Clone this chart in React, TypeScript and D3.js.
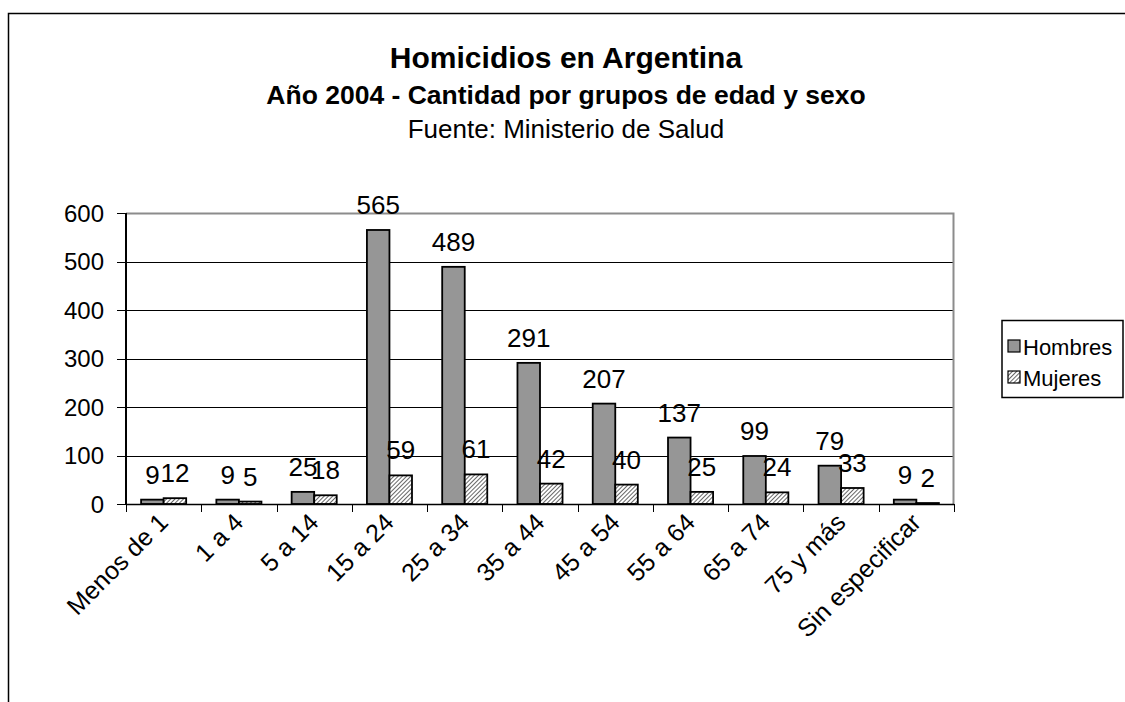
import React, { useEffect, useRef } from 'react';
import * as d3 from 'd3';

const categories = ['Menos de 1', '1 a 4', '5 a 14', '15 a 24', '25 a 34', '35 a 44', '45 a 54', '55 a 64', '65 a 74', '75 y más', 'Sin especificar'];
const hombres = [9, 9, 25, 565, 489, 291, 207, 137, 99, 79, 9];
const mujeres = [12, 5, 18, 59, 61, 42, 40, 25, 24, 33, 2];
const seriesNames = ['Hombres', 'Mujeres'];
const yTicks = [0, 100, 200, 300, 400, 500, 600];

const FONT = 'Arial, "Liberation Sans", sans-serif';

const App = () => {
  const ref = useRef<SVGSVGElement>(null);

  useEffect(() => {
    const W = 1125;
    const H = 702;
    const svg = d3.select(ref.current);
    svg.selectAll('*').remove();
    svg.attr('width', W).attr('height', H);

    // patrón rayado para Mujeres
    const defs = svg.append('defs');
    const pat = defs.append('pattern')
      .attr('id', 'hatch')
      .attr('patternUnits', 'userSpaceOnUse')
      .attr('width', 3)
      .attr('height', 3)
      .attr('patternTransform', 'rotate(45)');
    pat.append('rect').attr('width', 3).attr('height', 3).attr('fill', '#fff');
    pat.append('line').attr('x1', 0).attr('y1', 0).attr('x2', 0).attr('y2', 3)
      .attr('stroke', '#000').attr('stroke-width', 1.2);

    // marco exterior
    svg.append('rect')
      .attr('x', 8.5).attr('y', 13.5)
      .attr('width', W).attr('height', H)
      .attr('fill', '#fff').attr('stroke', '#000').attr('stroke-width', 1.5);

    // títulos
    const cx = 566;
    svg.append('text').attr('x', cx).attr('y', 68).attr('text-anchor', 'middle')
      .attr('font-family', FONT).attr('font-size', 30).attr('font-weight', 'bold')
      .text('Homicidios en Argentina');
    svg.append('text').attr('x', cx).attr('y', 104).attr('text-anchor', 'middle')
      .attr('font-family', FONT).attr('font-size', 26.5).attr('font-weight', 'bold')
      .text('Año 2004 - Cantidad por grupos de edad y sexo');
    svg.append('text').attr('x', cx).attr('y', 138).attr('text-anchor', 'middle')
      .attr('font-family', FONT).attr('font-size', 26)
      .text('Fuente: Ministerio de Salud');

    const left = 126, right = 954, top = 213, bottom = 504;

    const x = d3.scaleBand().domain(categories).range([left, right]).paddingInner(0).paddingOuter(0);
    const inner = d3.scaleBand().domain(seriesNames).range([0, x.bandwidth()]).paddingInner(0).paddingOuter(0.67);
    const y = d3.scaleLinear().domain([0, 600]).range([bottom, top]);

    // líneas de cuadrícula
    svg.append('g').selectAll('line').data(yTicks.filter(d => d > 0 && d < 600)).join('line')
      .attr('x1', left).attr('x2', right)
      .attr('y1', d => Math.round(y(d)) + 0.5).attr('y2', d => Math.round(y(d)) + 0.5)
      .attr('stroke', '#000').attr('stroke-width', 1);

    // borde del área (gris arriba y derecha)
    svg.append('path')
      .attr('d', `M${left},${top + 0.5}H${right - 0.5}V${bottom}`)
      .attr('fill', 'none').attr('stroke', '#8c8c8c').attr('stroke-width', 2);

    // barras
    const groups = svg.append('g').selectAll('g').data(categories).join('g')
      .attr('transform', d => `translate(${x(d)},0)`);

    groups.each(function (c, i) {
      const g = d3.select(this);
      const items = [
        { s: 'Hombres', v: hombres[i] },
        { s: 'Mujeres', v: mujeres[i] },
      ];
      g.selectAll('rect').data(items).join('rect')
        .attr('x', d => inner(d.s)!)
        .attr('y', d => y(d.v))
        .attr('width', inner.bandwidth())
        .attr('height', d => bottom - y(d.v))
        .attr('fill', d => (d.s === 'Hombres' ? '#969696' : 'url(#hatch)'))
        .attr('stroke', '#000').attr('stroke-width', 1.8);
      g.selectAll('text').data(items).join('text')
        .attr('x', d => inner(d.s)! + inner.bandwidth() / 2)
        .attr('y', d => y(d.v) - 16)
        .attr('text-anchor', 'middle')
        .attr('font-family', FONT).attr('font-size', 26)
        .text(d => d.v);
    });

    // eje Y
    const yAxis = svg.append('g');
    yAxis.append('line').attr('x1', left).attr('x2', left).attr('y1', top).attr('y2', bottom)
      .attr('stroke', '#000').attr('stroke-width', 2);
    yAxis.selectAll('line.tick').data(yTicks).join('line').attr('class', 'tick')
      .attr('x1', left - 9).attr('x2', left)
      .attr('y1', d => Math.round(y(d)) + 0.5).attr('y2', d => Math.round(y(d)) + 0.5)
      .attr('stroke', '#000');
    yAxis.selectAll('text').data(yTicks).join('text')
      .attr('x', left - 22).attr('y', d => y(d) + 8.5)
      .attr('text-anchor', 'end')
      .attr('font-family', FONT).attr('font-size', 24)
      .text(d => d);

    // eje X
    const xAxis = svg.append('g');
    xAxis.append('line').attr('x1', left).attr('x2', right).attr('y1', bottom + 0.5).attr('y2', bottom + 0.5)
      .attr('stroke', '#000').attr('stroke-width', 1.5);
    const bounds = categories.map(c => x(c)!).concat([right]);
    xAxis.selectAll('line.tick').data(bounds).join('line').attr('class', 'tick')
      .attr('x1', d => Math.round(d) + 0.5).attr('x2', d => Math.round(d) + 0.5)
      .attr('y1', bottom).attr('y2', bottom + 8)
      .attr('stroke', '#000');
    xAxis.selectAll('text').data(categories).join('text')
      .attr('transform', d => `translate(${x(d)! + x.bandwidth() / 2 + 6},${bottom + 20}) rotate(-45)`)
      .attr('text-anchor', 'end')
      .attr('font-family', FONT).attr('font-size', 25)
      .text(d => d);

    // leyenda
    const lg = svg.append('g');
    lg.append('rect').attr('x', 1002).attr('y', 320.5).attr('width', 121).attr('height', 77)
      .attr('fill', '#fff').attr('stroke', '#000').attr('stroke-width', 1.5);
    seriesNames.forEach((s, i) => {
      const yy = 348 + i * 31;
      lg.append('rect').attr('x', 1008).attr('y', yy - 8).attr('width', 12).attr('height', 12)
        .attr('fill', s === 'Hombres' ? '#969696' : 'url(#hatch)')
        .attr('stroke', '#000').attr('stroke-width', 1.2);
      lg.append('text').attr('x', 1023).attr('y', yy + 7)
        .attr('font-family', FONT).attr('font-size', 22)
        .text(s);
    });
  }, []);

  return (
    <div style={{ position: 'absolute', left: 0, top: 0, width: 1125, height: 702, overflow: 'hidden', background: '#fff' }}>
      <svg ref={ref} style={{ display: 'block' }} />
    </div>
  );
};

export default App;
